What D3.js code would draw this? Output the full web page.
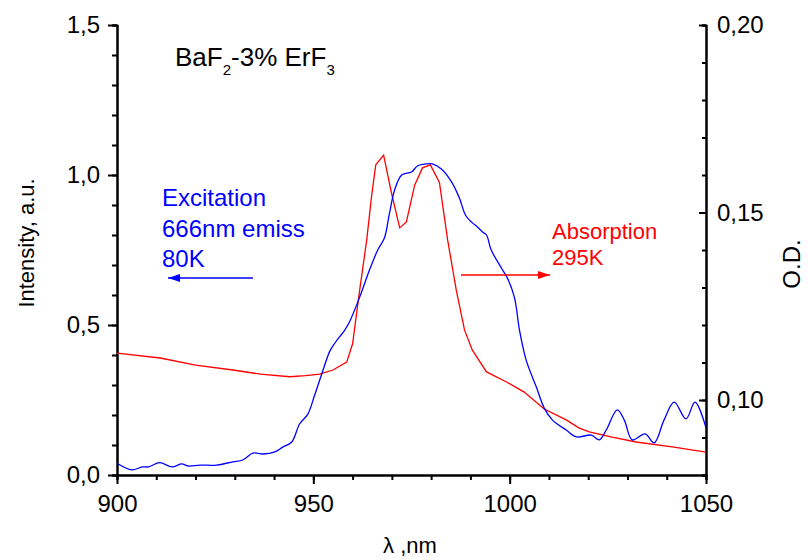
<!DOCTYPE html>
<html>
<head>
<meta charset="utf-8">
<script src="https://cdn.jsdelivr.net/npm/d3@7"></script>
<style>
  body { margin: 0; background: #fff; }
  svg text { font-family: Arial, "Liberation Sans", sans-serif; }
</style>
</head>
<body>
<div id="viz"></div>
<script>
// data

const excitationNm = [900, 903.8, 906.4, 908, 910.9, 914, 916.5, 918.1, 921.1, 925.4, 929.5, 932, 934.6, 937.1, 940.2, 942.2, 944.5, 946.5, 948.6, 950.3, 952.1, 954.2, 955.5, 958, 959.2, 961.8, 964.3, 966.4, 968.1, 969.4, 970.7, 972.5, 975, 976.5, 978.8, 980.3, 982.6, 985.2, 987.2, 988.8, 990.3, 991.8, 993.1, 994.1, 995.3, 997.9, 999.4, 1001.2, 1002.5, 1004.2, 1006.8, 1008.8, 1010.9, 1014.4, 1017, 1020.8, 1022.8, 1024.6, 1027.4, 1029.2, 1031.2, 1034.5, 1036.8, 1039.3, 1041.9, 1044.9, 1047.2, 1050];
const excitationVal = [0.039, 0.017, 0.027, 0.027, 0.041, 0.027, 0.037, 0.030, 0.033, 0.033, 0.044, 0.050, 0.073, 0.070, 0.077, 0.093, 0.110, 0.170, 0.203, 0.265, 0.335, 0.413, 0.44, 0.483, 0.51, 0.593, 0.683, 0.75, 0.79, 0.873, 0.95, 1.0, 1.01, 1.03, 1.037, 1.037, 1.02, 0.977, 0.923, 0.865, 0.843, 0.827, 0.81, 0.80, 0.75, 0.69, 0.657, 0.593, 0.483, 0.383, 0.293, 0.223, 0.183, 0.15, 0.127, 0.133, 0.117, 0.15, 0.217, 0.183, 0.117, 0.137, 0.107, 0.183, 0.243, 0.187, 0.243, 0.157];

const absorptionNm = [900, 911, 920, 929.5, 936.5, 944, 948, 951.6, 955, 958.5, 960, 961.8, 963.6, 964.8, 965.9, 967.9, 969.9, 972, 973.7, 975.8, 977.8, 979.8, 982.1, 984.2, 986.4, 988.5, 990.5, 994.1, 999.2, 1003.7, 1008.8, 1014.4, 1017.7, 1020.3, 1026.1, 1032.2, 1041.4, 1050];
const absorptionOD = [0.1125, 0.1112, 0.1093, 0.1080, 0.1069, 0.1062, 0.1065, 0.1069, 0.1080, 0.1101, 0.115, 0.1293, 0.1427, 0.1541, 0.1627, 0.1653, 0.1552, 0.1459, 0.1475, 0.1573, 0.1619, 0.1627, 0.1581, 0.1427, 0.1293, 0.1187, 0.1133, 0.1075, 0.1048, 0.1021, 0.0976, 0.0947, 0.0925, 0.0915, 0.0901, 0.0888, 0.0875, 0.0861];

const xTicks = [900, 950, 1000, 1050];
const leftTicks = [0, 0.5, 1.0, 1.5];
const rightTicks = [0.10, 0.15, 0.20];

// dimensions

const dms = {
  width: 808,
  height: 560,
  margins: { top: 25, bottom: 85, left: 117, right: 102 }
};
dms.innerWidth = dms.width - dms.margins.left - dms.margins.right;
dms.innerHeight = dms.height - dms.margins.top - dms.margins.bottom;

const svg = d3.select("#viz")
  .append("svg")
    .attr("width", dms.width)
    .attr("height", dms.height);

const g = svg.append("g")
  .attr("transform", `translate(${dms.margins.left},${dms.margins.top})`);

// scales

const xScale = d3.scaleLinear().domain([900, 1050]).range([0, dms.innerWidth]);
const yLeft = d3.scaleLinear().domain([0, 1.5]).range([dms.innerHeight, 0]);
const yRight = d3.scaleLinear().domain([0.08, 0.20]).range([dms.innerHeight, 0]);

const comma = f => d => d3.format(f)(d).replace(".", ",");

// axes

function styleAxis(sel) {
  sel.selectAll("path, line").attr("stroke", "#000").attr("stroke-width", 2);
  sel.selectAll("text").attr("fill", "#000").style("font-size", "24px");
}

// minor ticks first
g.append("g")
  .attr("transform", `translate(0,${dms.innerHeight})`)
  .call(d3.axisBottom(xScale).tickValues(d3.range(900, 1051, 10)).tickSize(5).tickFormat(""))
  .call(styleAxis);
g.append("g")
  .call(d3.axisLeft(yLeft).tickValues(d3.range(0, 1.51, 0.1)).tickSize(5).tickFormat(""))
  .call(styleAxis);
g.append("g")
  .attr("transform", `translate(${dms.innerWidth},0)`)
  .call(d3.axisRight(yRight).tickValues(d3.range(0.08, 0.2001, 0.01)).tickSize(-4).tickFormat(""))
  .call(styleAxis);

// major ticks
g.append("g")
  .attr("transform", `translate(0,${dms.innerHeight})`)
  .call(d3.axisBottom(xScale).tickValues(xTicks).tickSize(9).tickSizeOuter(0).tickPadding(11).tickFormat(d3.format("d")))
  .call(styleAxis);
g.append("g")
  .call(d3.axisLeft(yLeft).tickValues(leftTicks).tickSize(9).tickSizeOuter(0).tickPadding(8).tickFormat(comma(".1f")))
  .call(styleAxis);
g.append("g")
  .attr("transform", `translate(${dms.innerWidth},0)`)
  .call(d3.axisRight(yRight).tickValues(rightTicks).tickSize(-7).tickSizeOuter(0).tickPadding(11).tickFormat(comma(".2f")))
  .call(styleAxis);

// lines

const excitation = excitationNm.map((d, i) => ({ x: d, y: excitationVal[i] }));
const absorption = absorptionNm.map((d, i) => ({ x: d, y: absorptionOD[i] }));

g.append("path")
  .datum(absorption)
  .attr("fill", "none")
  .attr("stroke", "#ff0000")
  .attr("stroke-width", 1.3)
  .attr("d", d3.line().x(d => xScale(d.x)).y(d => yRight(d.y)));

g.append("path")
  .datum(excitation)
  .attr("fill", "none")
  .attr("stroke", "#0000ff")
  .attr("stroke-width", 1.3)
  .attr("d", d3.line().curve(d3.curveCatmullRom.alpha(0.5)).x(d => xScale(d.x)).y(d => yLeft(d.y)));

// axis titles

svg.append("text")
  .attr("transform", "translate(34,243) rotate(-90)")
  .attr("text-anchor", "middle")
  .style("font-size", "22px")
  .text("Intensity, a.u.");

svg.append("text")
  .attr("transform", "translate(800,264) rotate(-90)")
  .attr("text-anchor", "middle")
  .style("font-size", "24px")
  .text("O.D.");

svg.append("text")
  .attr("x", 410)
  .attr("y", 553)
  .attr("text-anchor", "middle")
  .style("font-size", "22px")
  .text("λ ,nm");

// sample label

const title = svg.append("text")
  .attr("x", 175)
  .attr("y", 66)
  .style("font-size", "26px");
title.append("tspan").text("BaF");
title.append("tspan").attr("dy", 9).style("font-size", "15px").text("2");
title.append("tspan").attr("dy", -9).text("-3% ErF");
title.append("tspan").attr("dy", 9).style("font-size", "15px").text("3");

// annotations

const defs = svg.append("defs");
[["arrBlue", "#0000ff"], ["arrRed", "#ff0000"]].forEach(([id, c]) => {
  defs.append("marker")
    .attr("id", id)
    .attr("viewBox", "0 0 12 8")
    .attr("refX", 12)
    .attr("refY", 4)
    .attr("markerWidth", 12)
    .attr("markerHeight", 8)
    .attr("markerUnits", "userSpaceOnUse")
    .attr("orient", "auto")
    .append("path")
      .attr("d", "M0,0 L12,4 L0,8 Z")
      .attr("fill", c);
});

const blueText = svg.append("text")
  .attr("fill", "#0000ff")
  .style("font-size", "24px");
["Excitation", "666nm emiss", "80K"].forEach((t, i) => {
  blueText.append("tspan").attr("x", 162).attr("y", 206 + i * 30.5).text(t);
});
svg.append("line")
  .attr("x1", 253).attr("y1", 278).attr("x2", 168).attr("y2", 278)
  .attr("stroke", "#0000ff").attr("stroke-width", 1.3)
  .attr("marker-end", "url(#arrBlue)");

const redText = svg.append("text")
  .attr("fill", "#ff0000")
  .style("font-size", "22px");
["Absorption", "295K"].forEach((t, i) => {
  redText.append("tspan").attr("x", 552).attr("y", 239 + i * 26).text(t);
});
svg.append("line")
  .attr("x1", 461).attr("y1", 275).attr("x2", 550).attr("y2", 275)
  .attr("stroke", "#ff0000").attr("stroke-width", 1.3)
  .attr("marker-end", "url(#arrRed)");
</script>
</body>
</html>
